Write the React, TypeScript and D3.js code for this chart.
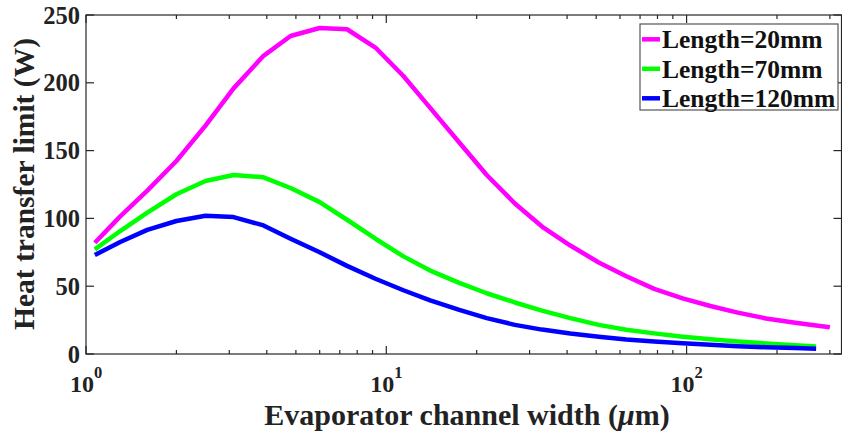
import React from 'react';
import * as d3 from 'd3';

// channel width (um) and heat transfer limit (W)
const widths = [1.07, 1.3, 1.6, 2, 2.5, 3.1, 3.9, 4.8, 6, 7.4, 9.2, 11.4, 14, 17.5, 21.6, 26.8, 33, 41, 51, 63, 78, 97, 120, 148, 184, 230, 270, 300];
const len20 = [82, 101.5, 120.5, 142.3, 168.4, 195.9, 219.9, 234.5, 240.4, 239.5, 226, 205, 181.5, 156, 132, 111, 94, 80, 67.5, 57.3, 48, 41, 35.4, 30.5, 26.2, 23, 21, 19.7];
const len70 = [77.2, 90.7, 104.2, 117.8, 127.6, 132, 130.3, 122.4, 112, 99, 85, 72, 61.5, 52.5, 44.8, 38, 32, 26.5, 21.5, 17.9, 15.2, 12.8, 10.9, 9.2, 7.8, 6.4, 5.5];
const len120 = [73, 82.6, 91.5, 98.1, 102, 101, 94.8, 85, 75, 65, 55.5, 47, 39.5, 32.5, 26.5, 21.5, 18, 15.1, 12.7, 10.7, 9.2, 7.9, 6.8, 5.8, 5, 4.4, 3.9];
const seriesNames = ['Length=20mm', 'Length=70mm', 'Length=120mm'];
const seriesColors = ['#ff00ff', '#00ff00', '#0000ff'];
const yTicks = [0, 50, 100, 150, 200, 250];
const xMajor = [1, 10, 100];
const xMinor = [2, 3, 4, 5, 6, 7, 8, 9, 20, 30, 40, 50, 60, 70, 80, 90, 200, 300];
const xExp = ['0', '1', '2'];

const W = 842;
const H = 436;
const m = { left: 86, right: 841.5, top: 15, bottom: 354 };
const font = '"Liberation Serif", "Times New Roman", serif';
const axisColor = '#262626';

export default function App() {
  const x = d3.scaleLog().domain([1, 328]).range([m.left, m.right]);
  const y = d3.scaleLinear().domain([0, 250]).range([m.bottom, m.top]);
  const line = d3.line<[number, number]>().x(d => x(d[0])).y(d => y(d[1]));
  const all = [len20, len70, len120];

  return (
    <svg width={W} height={H} style={{ position: 'absolute', left: 0, top: 0, background: '#fff' }}>
      {all.map((vals, i) => (
        <path
          key={i}
          d={line(vals.map((v, j) => [widths[j], v] as [number, number])) || ''}
          fill="none"
          stroke={seriesColors[i]}
          strokeWidth={4.5}
          strokeLinejoin="round"
        />
      ))}

      {/* axes box */}
      <rect x={m.left} y={m.top} width={m.right - m.left} height={m.bottom - m.top} fill="none" stroke={axisColor} strokeWidth={1.2} />

      {/* y ticks */}
      {yTicks.map(t => (
        <g key={t}>
          <line x1={m.left} x2={m.left + 8} y1={y(t)} y2={y(t)} stroke={axisColor} strokeWidth={1.2} />
          <line x1={m.right} x2={m.right - 8} y1={y(t)} y2={y(t)} stroke={axisColor} strokeWidth={1.2} />
          <text x={80} y={y(t)} dy="0.35em" textAnchor="end" fontFamily={font} fontWeight="bold" fontSize={24.5} fill="#222">
            {t}
          </text>
        </g>
      ))}

      {/* x ticks */}
      {xMajor.map((t, i) => (
        <g key={t}>
          <line x1={x(t)} x2={x(t)} y1={m.bottom} y2={m.bottom - 8} stroke={axisColor} strokeWidth={1.2} />
          <line x1={x(t)} x2={x(t)} y1={m.top} y2={m.top + 8} stroke={axisColor} strokeWidth={1.2} />
          <text x={x(t)} y={392} textAnchor="middle" fontFamily={font} fontWeight="bold" fontSize={24} fill="#222">
            10<tspan dy={-14} fontSize={16.5}>{xExp[i]}</tspan>
          </text>
        </g>
      ))}
      {xMinor.map(t => (
        <g key={t}>
          <line x1={x(t)} x2={x(t)} y1={m.bottom} y2={m.bottom - 4} stroke={axisColor} strokeWidth={1.2} />
          <line x1={x(t)} x2={x(t)} y1={m.top} y2={m.top + 4} stroke={axisColor} strokeWidth={1.2} />
        </g>
      ))}

      {/* axis titles */}
      <text x={467} y={425} textAnchor="middle" fontFamily={font} fontWeight="bold" fontSize={30} fill="#222">
        Evaporator channel width (<tspan fontStyle="italic">μ</tspan>m)
      </text>
      <text transform="translate(34,184) rotate(-90)" textAnchor="middle" fontFamily={font} fontWeight="bold" fontSize={29.5} fill="#222">
        Heat transfer limit (W)
      </text>

      {/* legend */}
      <rect x={640} y={24} width={198} height={86} fill="#fff" stroke="#555" strokeWidth={1.2} />
      {seriesNames.map((name, i) => (
        <g key={name}>
          <line x1={642} x2={660} y1={39.3 + i * 29.5} y2={39.3 + i * 29.5} stroke={seriesColors[i]} strokeWidth={4.5} />
          <text x={662} y={48.3 + i * 29.5} fontFamily={font} fontWeight="bold" fontSize={25.5} fill="#111">
            {name}
          </text>
        </g>
      ))}
    </svg>
  );
}
